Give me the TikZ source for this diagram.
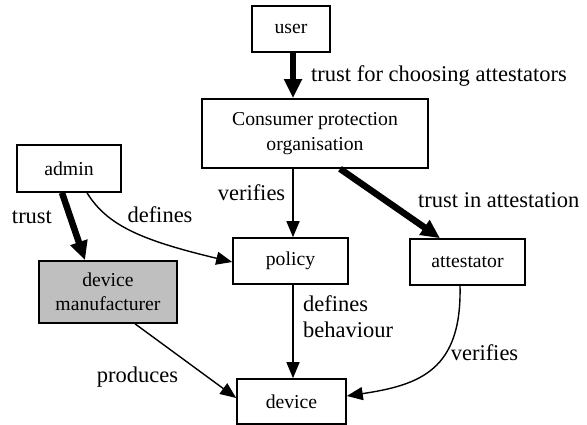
\documentclass[tikz,border=0pt]{standalone}
\usepackage{fontspec}
\setmainfont{Liberation Serif}
\usetikzlibrary{arrows.meta}
\begin{document}
\begin{tikzpicture}[x=1pt,y=-1pt,
  box/.style={draw, line width=1.6pt, inner sep=0pt, align=center,
    font=\fontsize{19.7}{24.5}\selectfont},
  lbl/.style={inner sep=0pt, font=\fontsize{22.5}{26.5}\selectfont},
  thin/.style={line width=1.4pt, -{Triangle[length=16pt,width=13pt]}},
  thick/.style={line width=6.5pt, -{Triangle[length=19pt,width=17pt]}}]
\useasboundingbox (0,0) rectangle (587,425);
% nodes
\node[box, minimum width=78pt, minimum height=46pt] (user) at (291,29) {user};
\node[box, minimum width=226pt, minimum height=69pt] (cpo) at (315,133.5) {Consumer protection\\organisation};
\node[box, minimum width=104pt, minimum height=47pt] (admin) at (69,168.5) {admin};
\node[box, fill=black!25, minimum width=138pt, minimum height=62pt] (dm) at (108,292) {device\\manufacturer};
\node[box, minimum width=115pt, minimum height=46pt] (policy) at (290.5,261) {policy};
\node[box, minimum width=115pt, minimum height=46pt] (att) at (467.5,262) {attestator};
\node[box, minimum width=109pt, minimum height=45pt] (device) at (291.5,401.5) {device};
% connectors
\draw[thick] (user.south -| 293,0) -- (cpo.north -| 293,0);
\draw[thin] (cpo.south -| 293,0) -- (policy.north -| 293,0);
\draw[thin] (policy.south -| 293,0) -- (device.north -| 293,0);
\draw[thick] (cpo.south -| 340,0) -- (att.north -| 440,0);
\draw[thick] (admin.south -| 62,0) -- (dm.north -| 85,0);
\draw[thin] (admin.south -| 87,0) .. controls (107,225) and (140,240) .. (policy.west |- 0,262);
\draw[thin] (dm.south -| 135,0) -- (device.west |- 0,398);
\draw[thin] (att.south -| 460,0) .. controls (462,370) and (420,385) .. (device.east |- 0,396);
% labels
\node[lbl, anchor=west] (l1) at (311,76) {trust for choosing attestators};
\node[lbl] (l2) at (251.5,193) {verifies};
\node[lbl, anchor=west] (l3) at (418,200) {trust in attestation};
\node[lbl] (l4) at (32,217) {trust};
\node[lbl] (l5) at (160,215) {defines};
\node[lbl, anchor=west, align=left] (l6) at (303,316.5) {defines\\behaviour};
\node[lbl] (l7) at (137.5,377) {produces};
\node[lbl] (l8) at (484.5,353) {verifies};
\end{tikzpicture}
\end{document}
